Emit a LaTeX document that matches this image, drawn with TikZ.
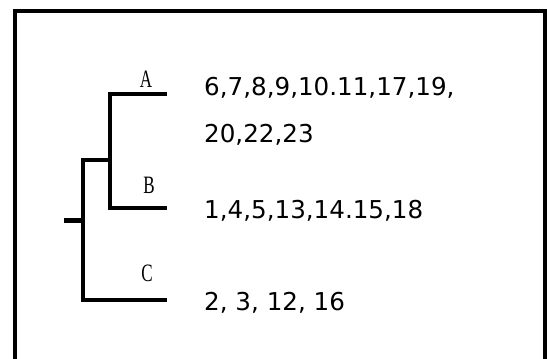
\documentclass[tikz,border=0pt]{standalone}
\usepackage{fontspec}
\setmainfont{Liberation Serif}
\newfontfamily\numfont{DejaVu Sans}
\newcommand{\narrowlab}[1]{\scalebox{0.68}[1]{#1}}
\begin{document}
\begin{tikzpicture}[x=1pt,y=-1pt,
  frame/.style={line width=3.2pt},
  tree/.style={line width=3.6pt,line join=miter},
  stub/.style={line width=5pt},
  lab/.style={inner sep=0pt,anchor=base,font=\fontsize{25}{28}\selectfont},
  nums/.style={inner sep=0pt,anchor=base west,font=\numfont\fontsize{24.6}{30}\selectfont}]
\useasboundingbox (0,0) rectangle (547,359);
\draw[frame] (15,359) -- (15,11) -- (545,11) -- (545,359);
\coordinate (root) at (64,220);
\coordinate (n1) at (83,220);
\coordinate (n1top) at (83,160);
\coordinate (n1bot) at (83,300);
\coordinate (n2) at (110,160);
\coordinate (n2top) at (110,94);
\coordinate (n2bot) at (110,208);
\coordinate (a) at (167,94);
\coordinate (b) at (167,208);
\coordinate (c) at (167,300);
\draw[stub] (root) -- (n1);
\draw[tree] (a) -- (n2top) -- (n2bot) -- (b);
\draw[tree] (n2) -- (n1top) -- (n1bot) -- (c);
\node[lab] (labA) at (146,87) {\narrowlab{A}};
\node[lab] (labB) at (149,193) {\narrowlab{B}};
\node[lab] (labC) at (147,281) {\narrowlab{C}};
\node[nums] (tA1) at (204,95) {6,7,8,9,10.11,17,19,};
\node[nums] (tA2) at (204,142) {20,22,23};
\node[nums] (tB) at (204,218) {1,4,5,13,14.15,18};
\node[nums] (tC) at (204,310) {2, 3, 12, 16};
\end{tikzpicture}
\end{document}
